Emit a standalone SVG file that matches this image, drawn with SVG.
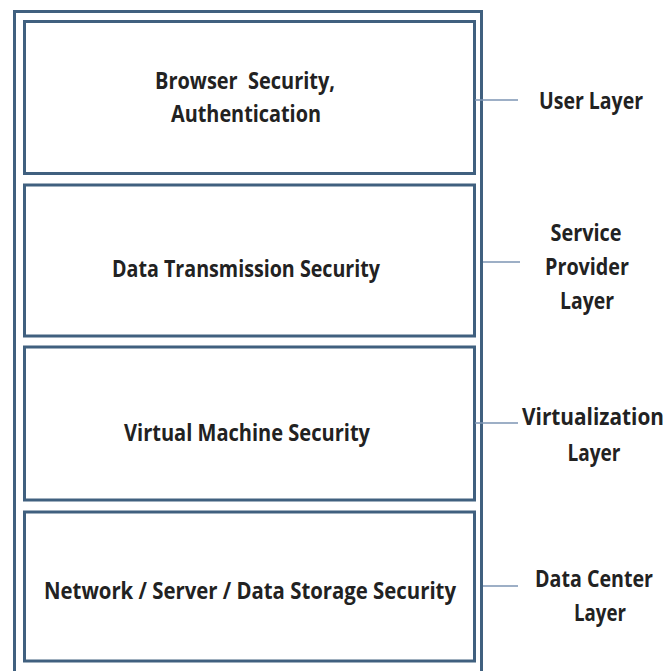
<svg xmlns="http://www.w3.org/2000/svg" width="670" height="671" viewBox="0 0 670 671">
  <style>
    .frame { fill: #ffffff; stroke: #40607f; stroke-width: 3; }
    .layer { fill: #ffffff; stroke: #40607f; stroke-width: 3; }
    .label { font-family: "Open Sans", "Liberation Sans", sans-serif; font-weight: 700; font-size: 24px; fill: #222222; text-anchor: middle; }
    .link { stroke: #7d95b3; stroke-width: 1.5; fill: none; }
  </style>
  <rect width="670" height="671" fill="#ffffff"/>

  <!-- outer stack frame -->
  <rect id="stack" class="frame" x="14.5" y="11.5" width="467" height="664"/>

  <!-- security layers -->
  <g id="browser-security">
    <rect class="layer" x="24.5" y="21.5" width="450" height="152"/>
    <text class="label" x="245" y="89" textLength="180" lengthAdjust="spacingAndGlyphs" xml:space="preserve">Browser  Security,</text>
    <text class="label" x="246" y="122" textLength="150" lengthAdjust="spacingAndGlyphs">Authentication</text>
  </g>
  <g id="data-transmission">
    <rect class="layer" x="24.5" y="185" width="450" height="151"/>
    <text class="label" x="246" y="277" textLength="268" lengthAdjust="spacingAndGlyphs">Data Transmission Security</text>
  </g>
  <g id="virtual-machine">
    <rect class="layer" x="24.5" y="347" width="450" height="153"/>
    <text class="label" x="247" y="441" textLength="246" lengthAdjust="spacingAndGlyphs">Virtual Machine Security</text>
  </g>
  <g id="data-center-security">
    <rect class="layer" x="24.5" y="512" width="450" height="149"/>
    <text class="label" x="250" y="599" textLength="412" lengthAdjust="spacingAndGlyphs">Network / Server / Data Storage Security</text>
  </g>

  <!-- layer names (horizontally condensed type) -->
  <g id="user-layer" transform="translate(591,0) scale(0.75,1)">
    <text class="label" x="0" y="109" textLength="138.7" lengthAdjust="spacingAndGlyphs">User Layer</text>
  </g>
  <g id="service-provider-layer" transform="translate(587,0) scale(0.75,1)">
    <text class="label" x="-1.3" y="241" textLength="94.7" lengthAdjust="spacingAndGlyphs">Service</text>
    <text class="label" x="0" y="275" textLength="112" lengthAdjust="spacingAndGlyphs">Provider</text>
    <text class="label" x="0" y="309" textLength="72" lengthAdjust="spacingAndGlyphs">Layer</text>
  </g>
  <g id="virtualization-layer" transform="translate(593,0) scale(0.75,1)">
    <text class="label" x="0" y="425" textLength="189.3" lengthAdjust="spacingAndGlyphs">Virtualization</text>
    <text class="label" x="1.3" y="461" textLength="70.7" lengthAdjust="spacingAndGlyphs">Layer</text>
  </g>
  <g id="datacenter-layer" transform="translate(594,0) scale(0.75,1)">
    <text class="label" x="0" y="587" textLength="157.3" lengthAdjust="spacingAndGlyphs">Data Center</text>
    <text class="label" x="8" y="621" textLength="69.3" lengthAdjust="spacingAndGlyphs">Layer</text>
  </g>

  <!-- connectors from the stack to the layer names -->
  <g id="connectors">
    <line class="link" x1="475" y1="100" x2="518" y2="100"/>
    <line class="link" x1="483" y1="262" x2="520" y2="262"/>
    <line class="link" x1="475" y1="423" x2="518" y2="423"/>
    <line class="link" x1="483" y1="586" x2="518" y2="586"/>
  </g>
</svg>
